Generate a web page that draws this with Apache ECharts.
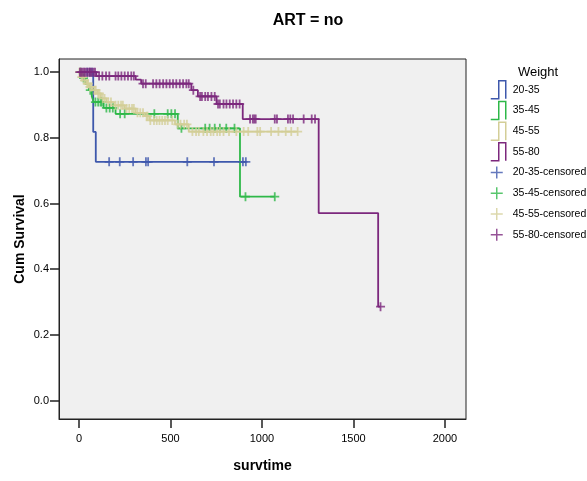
<!DOCTYPE html>
<html>
<head>
<meta charset="utf-8">
<script src="https://cdn.jsdelivr.net/npm/echarts@6/dist/echarts.min.js"></script>
<style>
  html, body { margin: 0; padding: 0; background: #ffffff; }
  #chart { width: 587px; height: 481px; }
</style>
</head>
<body>
<div id="chart"></div>
<script>
// Weight groups and their colours
const groups = ['20-35', '35-45', '45-55', '55-80'];
const groupColors = ['#3e58ac', '#2eb848', '#d3ce97', '#7c287d'];

// Kaplan-Meier steps: event times and survival after each event, plus censored times
const times2035 = [0, 78, 92];
const surv2035 = [1.0, 0.818, 0.727];
const cens2035 = [45, 60, 72, 165, 223, 296, 366, 378, 592, 738, 896, 912];

const times3545 = [0, 15, 35, 55, 70, 80, 135, 200, 540, 880];
const surv3545 = [1.0, 0.982, 0.964, 0.945, 0.927, 0.909, 0.891, 0.873, 0.829, 0.621];
const cens3545 = [8, 25, 62, 90, 105, 118, 125, 150, 168, 185, 225, 250, 412, 485, 505, 525,
  560, 690, 714, 742, 770, 805, 850, 910, 1070];

const times4555 = [0, 10, 25, 40, 55, 75, 100, 120, 150, 190, 250, 310, 360, 385, 525, 600];
const surv4555 = [1.0, 0.985, 0.975, 0.965, 0.955, 0.945, 0.935, 0.92, 0.909, 0.899, 0.889,
  0.876, 0.866, 0.853, 0.841, 0.819];
const cens4555 = [3, 8, 15, 20, 30, 45, 50, 60, 68, 85, 92, 105, 112, 130, 140, 160, 175, 200,
  215, 230, 240, 260, 275, 290, 300, 320, 335, 350, 370, 375, 390, 410, 425, 440, 455, 470, 485,
  510, 540, 555, 575, 590, 620, 640, 655, 680, 700, 720, 735, 755, 770, 790, 820, 860, 900, 925,
  975, 990, 1050, 1090, 1130, 1160, 1195];

const times5580 = [0, 95, 310, 340, 614, 650, 752, 895, 1310, 1635];
const surv5580 = [1.0, 0.988, 0.977, 0.965, 0.945, 0.926, 0.903, 0.857, 0.571, 0.286];
const cens5580 = [5, 12, 20, 28, 35, 45, 55, 62, 70, 80, 88, 110, 128, 148, 166, 200, 215, 232,
  250, 268, 286, 300, 350, 365, 405, 423, 441, 460, 478, 496, 514, 532, 551, 569, 587, 600, 625,
  662, 672, 690, 705, 724, 742, 760, 770, 790, 806, 824, 842, 860, 878, 935, 950, 958, 966, 1070,
  1082, 1142, 1155, 1170, 1228, 1272, 1290, 1648];

// Axis ticks
const xTicks = [0, 500, 1000, 1500, 2000];
const yTicks = [0, 0.2, 0.4, 0.6, 0.8, 1.0];

const curves = [
  { t: times2035, s: surv2035, c: cens2035 },
  { t: times3545, s: surv3545, c: cens3545 },
  { t: times4555, s: surv4555, c: cens4555 },
  { t: times5580, s: surv5580, c: cens5580 }
];

// Survival level of a step curve at time x
function levelAt(curve, x) {
  let v = curve.s[0];
  for (let i = 0; i < curve.t.length; i++) {
    if (curve.t[i] <= x) v = curve.s[i];
  }
  return v;
}

function stepPoints(curve) {
  const pts = curve.t.map((t, i) => [t, curve.s[i]]);
  const lastC = Math.max.apply(null, curve.c);
  const lastT = curve.t[curve.t.length - 1];
  if (lastC > lastT) pts.push([lastC, curve.s[curve.s.length - 1]]);
  return pts;
}

const plusSymbol = 'path://M0,4 L8,4 M4,0 L4,8';
const stepIcon = 'path://M0,18 L8,18 L8,0 L15,0 L15,18 M17,18';
const plusIcon = 'path://M0,0 M17,18 M0,9 L12,9 M6,3 L6,15';

const font = 'Liberation Sans, Arial, Helvetica, sans-serif';

const lineSeries = curves.map((cv, i) => ({
  name: groups[i],
  type: 'line',
  step: 'end',
  data: stepPoints(cv),
  showSymbol: false,
  symbol: 'none',
  lineStyle: { color: groupColors[i], width: 1.8 },
  itemStyle: { color: groupColors[i] },
  z: 2 + i,
  animation: false
}));

const censSeries = curves.map((cv, i) => ({
  name: groups[i] + '-censored',
  type: 'scatter',
  data: cv.c.map(x => [x, levelAt(cv, x)]),
  symbol: plusSymbol,
  symbolSize: 9,
  itemStyle: { color: groupColors[i], borderColor: groupColors[i], borderWidth: 1.8 },
  z: 6 + i,
  animation: false
}));

const legendData = groups.map((g, i) => ({
  name: g,
  icon: stepIcon,
  itemStyle: { color: 'transparent', borderColor: groupColors[i], borderWidth: 1.5 }
})).concat(groups.map((g, i) => ({
  name: g + '-censored',
  icon: plusIcon,
  itemStyle: { color: 'transparent', borderColor: groupColors[i], borderWidth: 1.5 }
})));

const chart = echarts.init(document.getElementById('chart'), null, { renderer: 'canvas' });
chart.setOption({
  animation: false,
  backgroundColor: '#ffffff',
  textStyle: { fontFamily: font },
  title: [
    {
      text: 'ART = no', left: 308, top: 13, textAlign: 'center', padding: 0,
      textStyle: { fontSize: 16, fontWeight: 'bold', color: '#000', fontFamily: font }
    },
    {
      text: 'Weight', left: 538, top: 66, textAlign: 'center', padding: 0,
      textStyle: { fontSize: 13, fontWeight: 'normal', color: '#000', fontFamily: font }
    }
  ],
  legend: {
    orient: 'vertical',
    left: 490,
    top: 80,
    padding: 0,
    itemWidth: 17,
    itemHeight: 18,
    itemGap: 1.2,
    selectedMode: false,
    textStyle: { fontSize: 10.5, color: '#000', fontFamily: font, padding: [0, 0, 0, 0] },
    data: legendData
  },
  grid: {
    left: 59, top: 59, width: 407, height: 360,
    show: true, backgroundColor: '#f0f0f0', borderColor: '#222', borderWidth: 1
  },
  xAxis: {
    type: 'value',
    min: -109, max: 2115,
    name: 'survtime',
    nameLocation: 'middle',
    nameGap: 40,
    nameMoveOverlap: false,
    nameTextStyle: { fontSize: 14, fontWeight: 'bold', color: '#000', fontFamily: font },
    axisLine: { show: true, onZero: false, lineStyle: { color: '#222', width: 1 } },
    axisTick: { show: true, inside: false, length: 9, customValues: xTicks, lineStyle: { color: '#222', width: 1.5 } },
    axisLabel: {
      customValues: xTicks, margin: 14, fontSize: 11, color: '#000', fontFamily: font,
      formatter: v => String(Math.round(v))
    },
    splitLine: { show: false }
  },
  yAxis: {
    type: 'value',
    min: -0.056, max: 1.04,
    name: 'Cum Survival',
    nameLocation: 'middle',
    nameGap: 32,
    nameMoveOverlap: false,
    nameTextStyle: { fontSize: 14, fontWeight: 'bold', color: '#000', fontFamily: font },
    axisLine: { show: true, onZero: false, lineStyle: { color: '#222', width: 1 } },
    axisTick: { show: true, inside: false, length: 9, customValues: yTicks, lineStyle: { color: '#222', width: 1.5 } },
    axisLabel: {
      customValues: yTicks, margin: 10, fontSize: 11, color: '#000', fontFamily: font,
      formatter: v => Number(v).toFixed(1)
    },
    splitLine: { show: false }
  },
  series: lineSeries.concat(censSeries)
});
</script>
</body>
</html>
